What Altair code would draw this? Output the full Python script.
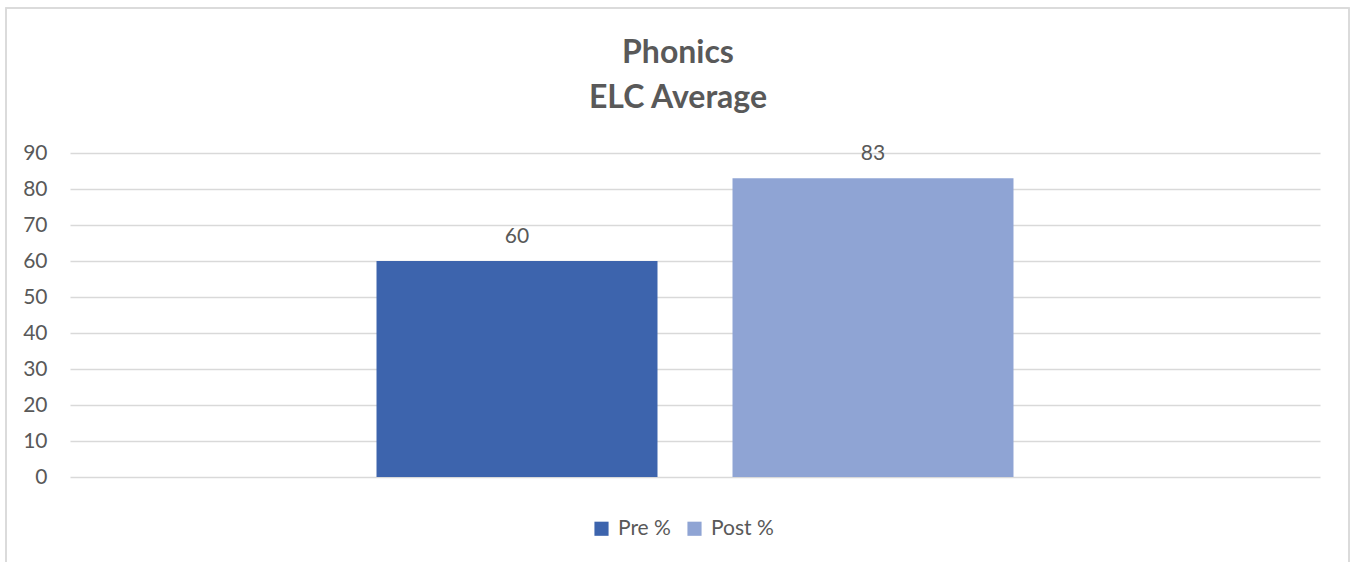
import altair as alt
import pandas as pd

series = ["Pre %", "Post %"]
values = [60, 83]
colors = ["#3D64AD", "#8FA4D4"]
y_ticks = [0, 10, 20, 30, 40, 50, 60, 70, 80, 90]

df = pd.DataFrame({"series": series, "value": values})

FONT = "Lato"
TXT = "#595959"

x_enc = alt.X("series:N", sort=series,
              scale=alt.Scale(paddingInner=0.2107, paddingOuter=0.861),
              axis=alt.Axis(labels=False, ticks=False, domain=False, title=None, grid=False))
y_enc = alt.Y("value:Q", scale=alt.Scale(domain=[0, 90], nice=False),
              axis=alt.Axis(values=y_ticks, title=None, domain=False, ticks=False,
                            labelOverlap=False, tickCount=10,
                            labelPadding=23, labelFontSize=21, labelColor=TXT, labelFont=FONT,
                            grid=True, gridColor="#d9d9d9", gridWidth=1.3))

frame = alt.Chart(df).mark_rect(fill=None, stroke="#d9d9d9", strokeWidth=1.5).encode(
    x=alt.value(-64), x2=alt.value(1279), y=alt.value(-145), y2=alt.value(420)
)

bars = alt.Chart(df).mark_bar().encode(
    x=x_enc, y=y_enc,
    color=alt.Color("series:N", sort=series,
                    scale=alt.Scale(domain=series, range=colors),
                    legend=alt.Legend(title=None, orient="none", direction="horizontal",
                                      legendX=521, legendY=365, labelFontSize=21, labelFont=FONT,
                                      labelColor=TXT, symbolType="square", symbolSize=200,
                                      symbolStrokeWidth=0, columnPadding=13, labelOffset=6))
)

labels = alt.Chart(df).mark_text(baseline="bottom", dy=-14, fontSize=21, font=FONT, color=TXT).encode(
    x=x_enc, y=y_enc, text="value:Q"
)

chart = alt.layer(frame, bars, labels).properties(
    width=1250, height=324,
    autosize=alt.AutoSizeParams(type="none"),
    padding={"left": 70, "top": 153, "right": 31, "bottom": 85},
    title=alt.TitleParams(["Phonics", "ELC Average"], fontSize=32, fontWeight="bold",
                          color=TXT, font=FONT, anchor="middle", lineHeight=45,
                          dx=-17, offset=-108),
    background="white",
).configure_view(stroke=None)

chart.save("out.html", embed_options={"renderer": "svg", "actions": False})
